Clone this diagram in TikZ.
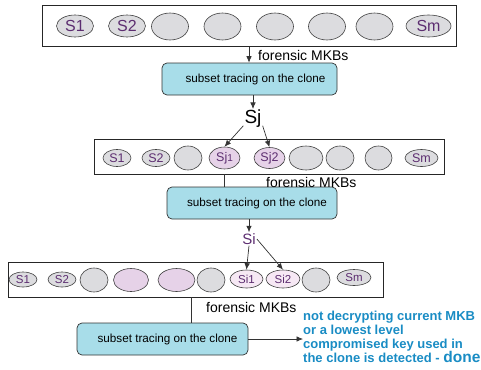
\documentclass[tikz,border=0pt]{standalone}
\usepackage{fontspec}
\setmainfont{Liberation Sans}
\usetikzlibrary{arrows.meta,shapes.geometric}

\definecolor{keygrey}{RGB}{220,220,223}
\definecolor{keypink}{RGB}{230,210,232}
\definecolor{keypale}{RGB}{246,232,244}
\definecolor{keylabel}{RGB}{92,45,112}
\definecolor{tracefill}{RGB}{168,221,233}
\definecolor{resultblue}{RGB}{25,140,196}

\tikzset{
  rowbox/.style={draw=black!85, line width=0.7pt, inner sep=0pt},
  key/.style={ellipse, draw=black!75, line width=0.6pt, fill=keygrey,
              inner sep=0pt, text=keylabel},
  pinkkey/.style={key, fill=keypink},
  palekey/.style={key, fill=keypale},
  lab1/.style={font=\fontsize{16}{18}\selectfont},
  lab2/.style={font=\fontsize{12.5}{14}\selectfont},
  lab3/.style={font=\fontsize{11.5}{13}\selectfont},
  tracebox/.style={draw=black!80, line width=0.7pt, fill=tracefill,
                   rounded corners=5pt, minimum height=32pt, inner sep=0pt,
                   font=\fontsize{11.7}{13}\selectfont},
  mkblabel/.style={anchor=west, inner sep=0pt, font=\fontsize{14}{16}\selectfont},
  link/.style={draw=black!80, line width=0.7pt},
  arr/.style={link, -{Latex[length=6.5pt,width=5.5pt]}},
  result/.style={anchor=west, inner sep=0pt, align=left, text=resultblue,
                 font=\bfseries\fontsize{13}{14}\selectfont},
}

\begin{document}
\begin{tikzpicture}[x=1pt, y=-1pt]
\useasboundingbox (0,0) rectangle (481,369);

% ---- first level: all subsets ----
\node[rowbox, minimum width=414pt, minimum height=41.5pt] (row1) at (249,25.75) {};
\node[key, lab1, minimum width=37pt, minimum height=22pt] (a1) at (75,26) {S1};
\node[key, lab1, minimum width=37pt, minimum height=22pt] (a2) at (127,26) {S2};
\node[key, minimum width=37pt, minimum height=27pt] (a3) at (170,26.5) {};
\node[key, minimum width=37pt, minimum height=27pt] (a4) at (222.5,26.5) {};
\node[key, minimum width=37pt, minimum height=27pt] (a5) at (275,26.5) {};
\node[key, minimum width=37pt, minimum height=27pt] (a6) at (327,26.5) {};
\node[key, minimum width=37pt, minimum height=27pt] (a7) at (374.5,26.5) {};
\node[key, lab1, minimum width=45pt, minimum height=22pt] (am) at (428.5,26) {Sm};

\node[tracebox, minimum width=175pt] (trace1) at (249.5,79) {\hspace*{12pt}subset tracing on the clone};
\draw[arr] (row1.south) -- (row1.south |- trace1.north);
\node[mkblabel] (mkb1) at (258,55) {forensic MKBs};

\node[inner sep=1pt, font=\fontsize{19}{21}\selectfont] (Sj) at (253,119) {Sj};
\draw[arr] (Sj.north |- trace1.south) -- (Sj.north);

% ---- second level: subset Sj split ----
\node[rowbox, minimum width=350pt, minimum height=35pt] (row2) at (269,156.5) {};
\node[key, lab2, minimum width=28pt, minimum height=17pt] (b1) at (117,158) {S1};
\node[key, lab2, minimum width=28pt, minimum height=17pt] (b2) at (156,158) {S2};
\node[key, minimum width=28pt, minimum height=24pt] (b3) at (188,158) {};
\node[pinkkey, lab2, minimum width=31pt, minimum height=22pt] (sj1) at (224.5,158) {Sj\raisebox{-0.5pt}{\fontsize{10}{12}\selectfont 1}};
\node[pinkkey, lab2, minimum width=31pt, minimum height=21pt] (sj2) at (269.5,158) {Sj2};
\node[key, minimum width=34pt, minimum height=24pt] (b4) at (306,158) {};
\node[key, minimum width=28pt, minimum height=24pt] (b5) at (340,158) {};
\node[key, minimum width=27pt, minimum height=24pt] (b6) at (378.5,158) {};
\node[key, lab2, minimum width=33pt, minimum height=17pt] (bm) at (421.5,158) {Sm};

\draw[arr] (Sj.215) -- (sj1.north);
\draw[arr] (Sj.325) -- (sj2.north);

\node[tracebox, minimum width=170pt] (trace2) at (252,203) {\hspace*{10pt}subset tracing on the clone};
\draw[link] (row2.south -| sj1) -- (trace2.north -| sj1);
\node[mkblabel] (mkb2) at (266,182) {forensic MKBs};

\node[inner sep=1pt, text=keylabel, font=\fontsize{15}{17}\selectfont] (Si) at (249,239) {Si};
\draw[arr] (Si.north |- trace2.south) -- (Si.north);

% ---- third level: subset Si split ----
\node[rowbox, minimum width=375pt, minimum height=35pt] (row3) at (195.5,279.5) {};
\node[key, lab3, minimum width=28pt, minimum height=15pt] (c1) at (23,279.5) {S1};
\node[key, lab3, minimum width=28pt, minimum height=15pt] (c2) at (62,279.5) {S2};
\node[key, minimum width=28pt, minimum height=24pt] (c3) at (94,280) {};
\node[pinkkey, minimum width=35pt, minimum height=23pt] (c4) at (131,280) {};
\node[pinkkey, minimum width=37pt, minimum height=23pt] (c5) at (176.5,280) {};
\node[key, minimum width=28pt, minimum height=24pt] (c6) at (211,280) {};
\node[palekey, lab3, minimum width=33pt, minimum height=18pt] (si1) at (246.5,279) {Si1};
\node[palekey, lab3, minimum width=34pt, minimum height=18pt] (si2) at (283,279) {Si2};
\node[key, minimum width=28pt, minimum height=24pt] (c7) at (316,280) {};
\node[key, lab3, minimum width=34pt, minimum height=16pt] (cm) at (354,277.5) {Sm};

\draw[arr] (Si.south) -- (si1.north);
\draw[arr] (Si.east) -- (si2.north);

\coordinate (tap3) at (191,0);
\node[tracebox, minimum width=171pt] (trace3) at (162.5,339) {\hspace*{10pt}subset tracing on the clone};
\draw[link] (row3.south -| tap3) -- (trace3.north -| tap3);
\node[mkblabel] (mkb3) at (206,307) {forensic MKBs};

\node[result] (res) at (303,337) {not decrypting current MKB\\or a lowest level\\compromised key used in\\the clone is detected - {\fontsize{15.5}{14}\selectfont done}};
\draw[arr] (trace3.east) -- (trace3.east -| res.west);
\end{tikzpicture}
\end{document}
